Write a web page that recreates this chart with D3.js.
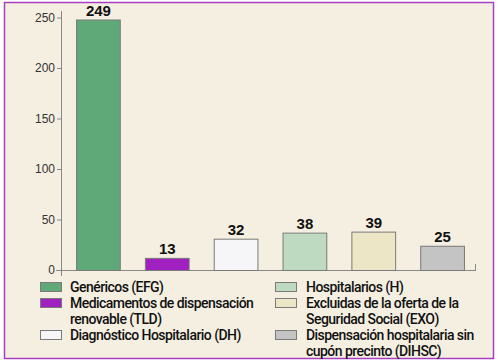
<!DOCTYPE html>
<html><head><meta charset="utf-8">
<script src="https://cdn.jsdelivr.net/npm/d3@7"></script>
<style>body{margin:0;background:#fff}svg{display:block}</style>
</head><body>
<svg id="c" width="498" height="364"></svg>
<script>
const categories = ["Genéricos (EFG)","Medicamentos de dispensación renovable (TLD)","Diagnóstico Hospitalario (DH)","Hospitalarios (H)","Excluidas de la oferta de la Seguridad Social (EXO)","Dispensación hospitalaria sin cupón precinto (DIHSC)"];
const values = [249, 13, 32, 38, 39, 25];
const colors = ["#5fa878","#a020c0","#f6f6f8","#bedac1","#ede6c6","#c4c4c4"];
const yTicks = [0, 50, 100, 150, 200, 250];
const legendLines = [
  ["Genéricos (EFG)"],
  ["Medicamentos de dispensación","renovable (TLD)"],
  ["Diagnóstico Hospitalario (DH)"],
  ["Hospitalarios (H)"],
  ["Excluidas de la oferta de la","Seguridad Social (EXO)"],
  ["Dispensación hospitalaria sin","cupón precinto (DIHSC)"]
];

const svg = d3.select("#c");
const font = "'Liberation Sans', Arial, sans-serif";
const lfont = "Roboto, 'Liberation Sans', sans-serif";
svg.append("rect").attr("x",4.5).attr("y",2.5).attr("width",489).attr("height",356)
  .attr("fill","#f5efe1").attr("stroke","#a83fc4").attr("stroke-width",1.5);

const y = d3.scaleLinear().domain([0,250]).range([270,17.5]);
const x = d3.scaleBand().domain(categories).range([64,477]).paddingInner(0.35).paddingOuter(0.175);

const yAxis = svg.append("g").attr("transform","translate(61,0)")
  .call(d3.axisLeft(y).tickValues(yTicks).tickSize(4).tickPadding(2));
yAxis.select(".domain").remove();
yAxis.selectAll("line").attr("stroke","#888");
yAxis.selectAll("text").attr("font-family",font).attr("font-size",12).attr("fill","#333");
svg.append("line").attr("x1",61.5).attr("x2",61.5).attr("y1",11).attr("y2",276).attr("stroke","#888");
svg.append("line").attr("x1",56).attr("x2",475).attr("y1",270.5).attr("y2",270.5).attr("stroke","#888");
svg.append("line").attr("x1",475.5).attr("x2",475.5).attr("y1",264).attr("y2",271).attr("stroke","#888");

svg.selectAll("rect.bar").data(values).join("rect").attr("class","bar")
  .attr("x",(d,i)=>x(categories[i])+0.5).attr("width",x.bandwidth()-1)
  .attr("y",d=>y(d)+1.5).attr("height",d=>y(0)-y(d)-1)
  .attr("fill",(d,i)=>colors[i]).attr("stroke","#7a7a7a").attr("stroke-width",1);

svg.selectAll("text.val").data(values).join("text").attr("class","val")
  .attr("x",(d,i)=>x(categories[i])+x.bandwidth()/2).attr("y",d=>y(d)-3)
  .attr("text-anchor","middle").attr("font-family",font).attr("font-weight","bold")
  .attr("font-size",15).attr("fill","#111").text(d=>d);

const rowY = [287, 303, 335];
const lg = svg.append("g");
legendLines.forEach((lines,i)=>{
  const col = i<3?0:1, row = i%3;
  const sx = col===0?40:275, tx = col===0?70:306;
  const cy = rowY[row];
  lg.append("rect").attr("x",sx+0.5).attr("y",cy-4.5).attr("width",21).attr("height",9)
    .attr("fill",colors[i]).attr("stroke","#7a7a7a");
  lines.forEach((t,j)=>{
    lg.append("text").attr("x",tx).attr("y",cy+5+j*16).attr("font-family",lfont)
      .attr("font-weight",500).attr("font-size",14).attr("letter-spacing","-0.55")
      .attr("fill","#111").text(t);
  });
});
</script>
</body></html>
